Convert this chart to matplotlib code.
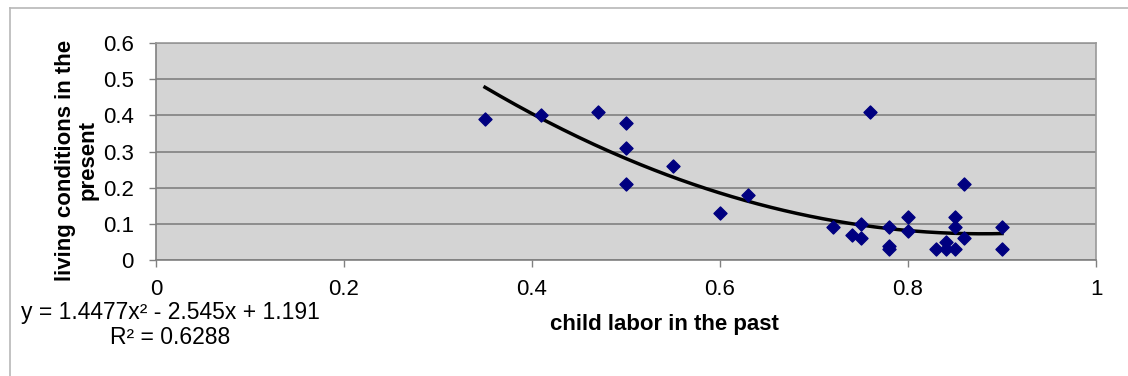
import matplotlib
matplotlib.use("Agg")
import matplotlib.pyplot as plt
import numpy as np

plt.rcParams['font.family'] = ['Liberation Sans', 'DejaVu Sans']

# data
child_labor = [0.35, 0.41, 0.47, 0.50, 0.50, 0.50, 0.55, 0.60, 0.63,
               0.72, 0.74, 0.75, 0.75, 0.76, 0.78, 0.78, 0.78, 0.80, 0.80,
               0.83, 0.84, 0.84, 0.85, 0.85, 0.85, 0.86, 0.86, 0.90, 0.90]
living_cond = [0.39, 0.40, 0.41, 0.38, 0.31, 0.21, 0.26, 0.13, 0.18,
               0.09, 0.07, 0.10, 0.06, 0.41, 0.09, 0.04, 0.03, 0.12, 0.08,
               0.03, 0.05, 0.03, 0.12, 0.09, 0.03, 0.21, 0.06, 0.09, 0.03]
trend_coef = [1.4477, -2.545, 1.191]
r_squared = 0.6288
x_ticks = [0, 0.2, 0.4, 0.6, 0.8, 1]
x_tick_labels = ['0', '0.2', '0.4', '0.6', '0.8', '1']
y_ticks = [0, 0.1, 0.2, 0.3, 0.4, 0.5, 0.6]
y_tick_labels = ['0', '0.1', '0.2', '0.3', '0.4', '0.5', '0.6']

W, H = 1128, 376
fig = plt.figure(figsize=(W / 100, H / 100), dpi=100)
fig.patch.set_facecolor('white')

# outer chart frame (top and left visible)
fig.add_artist(plt.Line2D([10 / W, 1], [1 - 8 / H, 1 - 8 / H], color='#b8b8b8', lw=1.2,
                          transform=fig.transFigure))
fig.add_artist(plt.Line2D([10 / W, 10 / W], [0, 1 - 8 / H], color='#b8b8b8', lw=1.2,
                          transform=fig.transFigure))

left, right, top, bottom = 156, 1096, 43, 260
ax = fig.add_axes([left / W, 1 - bottom / H, (right - left) / W, (bottom - top) / H])
ax.set_facecolor('#d4d4d4')
ax.set_xlim(0, 1)
ax.set_ylim(0, 0.6)
ax.set_xticks(x_ticks)
ax.set_xticklabels(x_tick_labels)
ax.set_yticks(y_ticks)
ax.set_yticklabels(y_tick_labels)
ax.yaxis.grid(True, color='#808080', lw=1.2)
ax.set_axisbelow(True)
for s in ax.spines.values():
    s.set_color('#999999')
    s.set_linewidth(1.2)
ax.spines['bottom'].set_color('#808080')
ax.spines['left'].set_color('#808080')
ax.tick_params(axis='both', labelsize=16, labelcolor='black', color='#808080',
               length=5, width=1, direction='out')
ax.tick_params(axis='x', pad=9)
ax.tick_params(axis='y', pad=11)

# trendline
xs = np.linspace(min(child_labor), max(child_labor), 200)
ax.plot(xs, np.polyval(trend_coef, xs), color='black', lw=2.5, zorder=2)

ax.scatter(child_labor, living_cond, marker='D', s=44, color='#000080',
           edgecolors='#000080', zorder=3)

ax.set_xlabel('child labor in the past', fontsize=16, fontweight='bold')
ax.xaxis.set_label_coords((664 - left) / (right - left), -(314 - bottom) / (bottom - top))
ax.set_ylabel('living conditions in the\npresent', fontsize=16, fontweight='bold',
              linespacing=1.1)
ax.yaxis.set_label_coords(-(156 - 99) / (right - left), (bottom - 160) / (bottom - top))

eq = 'y = %.4fx² - %.3fx + %.3f' % (trend_coef[0], -trend_coef[1], trend_coef[2])
fig.text(170 / W, 1 - 313 / H, eq, ha='center', va='center', fontsize=16.5)
fig.text(170 / W, 1 - 338 / H, 'R² = %.4f' % r_squared, ha='center', va='center',
         fontsize=16.5)

fig.savefig('out.png', dpi=100)
